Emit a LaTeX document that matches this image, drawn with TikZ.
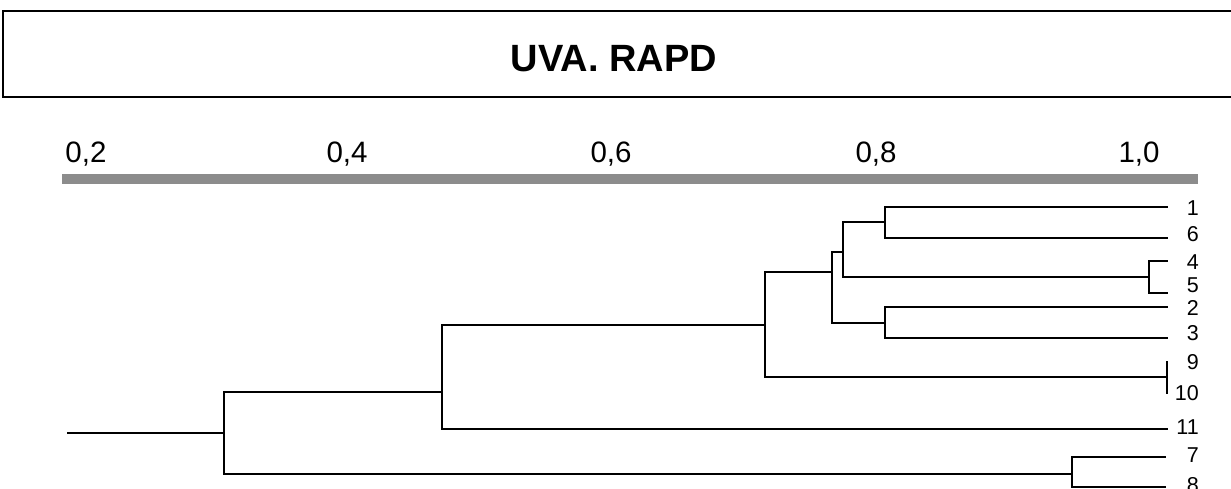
\documentclass[tikz,border=0pt]{standalone}
\usepackage{fontspec}
\setmainfont{Liberation Sans}
\begin{document}
\begin{tikzpicture}[x=1pt,y=-1pt,
  branch/.style={line width=2.4pt,line cap=rect},
  leaflab/.style={anchor=east,inner sep=0pt,font=\fontsize{21.5}{22}\selectfont},
  axislab/.style={anchor=base,inner sep=0pt,font=\fontsize{29.5}{30}\selectfont},
  titlelab/.style={inner sep=0pt,font=\fontsize{38}{40}\selectfont\bfseries}]
\useasboundingbox (0,0) rectangle (1231,489);
\clip (0,0) rectangle (1231,489);
% title box
\draw[line width=2.4pt] (3,11) rectangle (1260,97);
\node[titlelab] (title) at (614,58.5) {UVA. RAPD};
% axis
\node[axislab] (a2) at (86,162.5) {0,2};
\node[axislab] (a4) at (347,162.5) {0,4};
\node[axislab] (a6) at (611,162.5) {0,6};
\node[axislab] (a8) at (876,162.5) {0,8};
\node[axislab] (a10) at (1139,162.5) {1,0};
\fill[black!45] (62,174) rectangle (1198,184);
% leaf ends
\coordinate (e1) at (1167,207);
\coordinate (e6) at (1167,238);
\coordinate (e4) at (1167,261);
\coordinate (e5) at (1167,293);
\coordinate (e2) at (1167,307);
\coordinate (e3) at (1167,338);
\coordinate (e9) at (1167,362);
\coordinate (e10) at (1167,393);
\coordinate (e910) at (1167,377);
\coordinate (e11) at (1167,429);
\coordinate (e7) at (1165,457);
\coordinate (e8) at (1165,487);
% junctions
\coordinate (jA) at (885,222);
\coordinate (jB) at (1149,277);
\coordinate (jC) at (843,252);
\coordinate (jD) at (885,323);
\coordinate (jE) at (832,272);
\coordinate (jF) at (765,325);
\coordinate (jG) at (442,392);
\coordinate (jH) at (1072,474);
\coordinate (jR) at (224,433);
\coordinate (stem) at (68,433);
% labels
\node[leaflab] (l1) at (1199,208) {1};
\node[leaflab] (l6) at (1199,234) {6};
\node[leaflab] (l4) at (1199,262) {4};
\node[leaflab] (l5) at (1199,285) {5};
\node[leaflab] (l2) at (1199,308) {2};
\node[leaflab] (l3) at (1199,333) {3};
\node[leaflab] (l9) at (1199,362) {9};
\node[leaflab] (l10) at (1199,393) {10};
\node[leaflab] (l11) at (1199,427) {11};
\node[leaflab] (l7) at (1199,455) {7};
\node[leaflab] (l8) at (1199,485) {8};
% tree
\draw[branch] (stem) -- (jR);
\draw[branch] (jR) |- (jG);
\draw[branch] (jR) |- (jH);
\draw[branch] (jG) |- (jF);
\draw[branch] (jG) |- (e11);
\draw[branch] (jF) |- (jE);
\draw[branch] (jF) |- (e910);
\draw[branch] (e9) -- (e10);
\draw[branch] (jE) |- (jC);
\draw[branch] (jE) |- (jD);
\draw[branch] (jC) |- (jA);
\draw[branch] (jC) |- (jB);
\draw[branch] (jA) |- (e1);
\draw[branch] (jA) |- (e6);
\draw[branch] (jB) |- (e4);
\draw[branch] (jB) |- (e5);
\draw[branch] (jD) |- (e2);
\draw[branch] (jD) |- (e3);
\draw[branch] (jH) |- (e7);
\draw[branch] (jH) |- (e8);
\end{tikzpicture}
\end{document}
